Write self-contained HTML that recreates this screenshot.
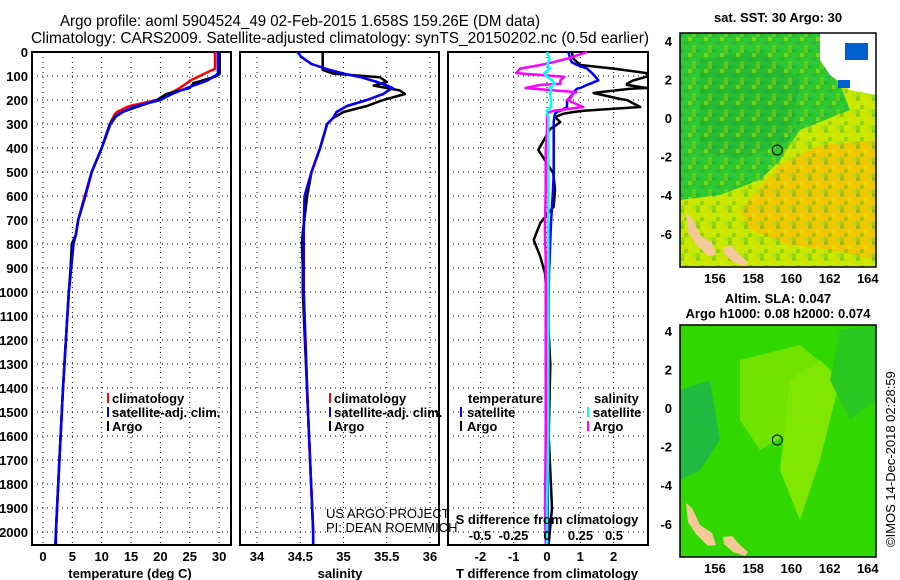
<!DOCTYPE html>
<html><head><meta charset="utf-8"><style>
html,body{margin:0;padding:0;background:#fff;}
svg{display:block;font-family:"Liberation Sans",sans-serif;}
.t{font-size:13px;font-weight:bold;}
</style></head><body>
<svg id="s" width="900" height="580" viewBox="0 0 900 580">
<defs>
<pattern id="noise" x="680" y="33" width="16" height="16" patternUnits="userSpaceOnUse">
<rect x="0" y="0" width="4" height="4" fill="#10a040" opacity="0.35"/>
<rect x="8" y="4" width="4" height="4" fill="#e0f000" opacity="0.4"/>
<rect x="4" y="8" width="4" height="4" fill="#10a040" opacity="0.3"/>
<rect x="12" y="12" width="4" height="4" fill="#90e000" opacity="0.4"/>
<rect x="12" y="0" width="4" height="4" fill="#f0d000" opacity="0.25"/>
<rect x="0" y="12" width="4" height="4" fill="#20c060" opacity="0.3"/>
</pattern>
</defs>
<text x="300" y="26" text-anchor="middle" font-size="16" textLength="480" lengthAdjust="spacingAndGlyphs">Argo profile: aoml 5904524_49 02-Feb-2015 1.658S 159.26E (DM data)</text>
<text x="340" y="43" text-anchor="middle" font-size="16" textLength="618" lengthAdjust="spacingAndGlyphs">Climatology: CARS2009. Satellite-adjusted climatology: synTS_20150202.nc (0.5d earlier)</text>
<g id="panels"></g>
</svg>
<script>
// ---- data ----
var tDepth = [0,70,90,100,120,130,150,175,200,225,230,250,260,270,300,400,500,600,700,760,800,900,1000,1200,1400,1700,2000,2050];
var tClim  = [29.3,29.3,27.5,26.7,25,24.5,23.3,21.5,19.4,14.8,14.2,12.6,12.2,12,11.4,10,8.3,7.1,6,5.6,5.2,4.8,4.4,3.9,3.4,2.8,2.2,2.1];
var tSat   = [29.8,29.8,29.8,29.3,27.9,26.8,24.5,22,20,16,15.3,13.5,12.8,12.4,11.5,10,8.3,7.2,6,5.6,5.2,4.8,4.4,3.9,3.4,2.8,2.2,2.1];
var tArgo  = [30.1,30.1,30.1,29.6,27,25.6,25,21,19.4,16.5,15.8,13.6,13,12.3,11.4,10,8.3,7.2,6,5.6,4.9,4.7,4.4,3.9,3.4,2.8,2.2,2.2];
var sDepth = [0,20,50,75,90,105,125,140,150,160,175,200,225,250,275,300,400,500,600,750,800,900,1000,1500,2000,2050];
var sClim  = [34.47,34.51,34.63,34.84,35.0,35.2,35.39,35.5,35.57,35.52,35.46,35.27,35.04,34.92,34.88,34.81,34.73,34.63,34.55,34.54,34.54,34.54,34.54,34.59,34.65,34.65];
var sArgo  = [34.76,34.76,34.76,34.76,34.88,35.42,35.5,35.35,35.5,35.65,35.71,35.46,35.27,35.0,34.88,34.81,34.73,34.63,34.58,34.53,34.52,34.53,34.53,34.59,34.65,34.65];
var dDepth = [0,28,42,54,69,88,103,118,132,137,150,153,167,171,196,200,229,245,250,257,271,292,312,320,408,505,575,644,713,783,853,922,1030,1300,1600,1900,2050];
var dTArgo = [0.74,0.8,0.9,1.0,2.0,3.0,3.0,2.6,2.4,2.4,3.0,2.5,1.6,1.4,2.2,2.4,2.8,1.1,0.8,0.5,0.24,0.4,0.2,0.1,-0.26,0.19,0.24,0.2,-0.2,-0.4,-0.2,-0.06,0,0.1,0.05,0.15,0.05];
var dTSat  = [0.64,0.7,0.74,0.9,1.2,1.35,1.45,1.54,1.3,1.2,1.0,0.9,0.8,0.8,0.65,0.6,0.6,0.4,0.3,0.24,0.22,0.2,0.2,0.2,0.2,0.2,0.18,0.15,0.12,0.1,0.08,0.06,0.05,0.04,0.03,0.02,0.02];
var dSArgo = [0.3,0.15,0.05,-0.05,-0.2,-0.23,0.13,0.1,0.1,-0.05,-0.16,-0.1,0.22,0.2,0.17,0.15,0.27,0.05,0.02,0.0,0.0,0.0,0.0,0.0,-0.01,-0.01,-0.01,-0.012,-0.015,-0.015,-0.01,-0.01,-0.01,-0.01,-0.01,-0.015,-0.01];
var dSSat  = [0.0,0.02,0.01,0.0,0.02,-0.02,0.0,0.04,0.06,0.04,0.02,0.03,0.03,0.02,0.03,0.03,0.03,0.0,0.0,0.0,0.01,0.01,0.01,0.01,0.01,0.01,0.01,0.01,0.01,0.01,0.01,0.01,0.01,0.01,0.01,0.0,0.0];
var depthTicks = [0,100,200,300,400,500,600,700,800,900,1000,1100,1200,1300,1400,1500,1600,1700,1800,1900,2000];
var tempTicks = [0,5,10,15,20,25,30];
var salTicks = [34,34.5,35,35.5,36];
var tdTicks = [-2,-1,0,1,2];
var sdTicks = [-0.5,-0.25,0,0.25,0.5];
var sdLabels = ["-0.5","-0.25","0","0.25","0.5"];
var lonTicks = [156,158,160,162,164];
var latTicks = [4,2,0,-2,-4,-6];

var NS='http://www.w3.org/2000/svg';
function mk(tag,attrs,parent,txt){var e=document.createElementNS(NS,tag);for(var k in attrs)e.setAttribute(k,attrs[k]);if(txt!==undefined)e.textContent=txt;parent.appendChild(e);return e;}
function yD(d){return 52+d*0.24;}
var P=document.getElementById('panels');
var TOP=52,BOT=545;
function panel(name,x0,x1,xf,ticks,labels){
  var g=mk('g',{},P);
  
  
  ticks.forEach(function(v){var x=xf(v);
    var l=mk('line',{x1:x,x2:x,y1:TOP,y2:BOT,stroke:'#000','stroke-width':1,'stroke-dasharray':'1,4'},g);
    
    
  });
  depthTicks.forEach(function(d){var y=yD(d);
    var l=mk('line',{x1:x0,x2:x1,y1:y,y2:y,stroke:'#000','stroke-width':1,'stroke-dasharray':'1,4'},g);
    
    
  });
  var r=mk('rect',{x:x0,y:TOP,width:x1-x0,height:BOT-TOP,fill:'none',stroke:'#000','stroke-width':2},g);
  
  
  ticks.forEach(function(v,i){
    var t=mk('text',{x:xf(v),y:561,'text-anchor':'middle','class':'t'},g,labels[i]);
    
    
  });
  return g;
}
function line(g,xs,ds,xf,col,w,name,clipx){
  var pts=xs.map(function(v,i){var x=xf(v);if(clipx!==undefined)x=Math.min(x,clipx);return x.toFixed(1)+','+yD(ds[i]).toFixed(1);}).join(' ');
  var p=mk('polyline',{points:pts,fill:'none',stroke:col,'stroke-width':w,'stroke-linejoin':'round'},g);
  
  
}
depthTicks.forEach(function(d){
  var t=mk('text',{x:28,y:yD(d)+5,'text-anchor':'end','class':'t'},P,String(d));
  
  
});
function xT(v){return 43+v*5.87;}
var g1=panel('temperature-panel',32,231,xT,tempTicks,tempTicks.map(String));
line(g1,tClim,tDepth,xT,'#f00',2.5,'climatology-temp-line');
line(g1,tArgo,tDepth,xT,'#000',2.5,'argo-temp-line');
line(g1,tSat,tDepth,xT,'#00f',2.5,'satellite-temp-line');
function xS(v){return 257+(v-34)*86.5;}
var g2=panel('salinity-panel',240,439,xS,salTicks,salTicks.map(String));
line(g2,sArgo,sDepth,xS,'#000',2.5,'argo-salinity-line');
line(g2,sClim,sDepth,xS,'#f00',2.5,'climatology-salinity-line');
line(g2,sClim,sDepth,xS,'#00f',2.5,'satellite-salinity-line');
function xTD(v){return 547+v*33.3;}
function xSD(v){return 547+v*134;}
var g3=panel('difference-panel',448,648,xTD,tdTicks,tdTicks.map(String));
line(g3,dTArgo,dDepth,xTD,'#000',2.5,'argo-temp-diff-line',647);
line(g3,dTSat,dDepth,xTD,'#00f',2.5,'satellite-temp-diff-line',647);
line(g3,dSArgo,dDepth,xSD,'#f0f',2.5,'argo-salinity-diff-line',647);
line(g3,dSSat,dDepth,xSD,'#0ff',2.5,'satellite-salinity-diff-line',647);
sdTicks.forEach(function(v,i){
  var t=mk('text',{x:xSD(v),y:540,'text-anchor':'middle','class':'t'},g3,sdLabels[i]);
  
  
});

var S=document.getElementById('s');
function T(x,y,txt,name,extra){var e=document.createElementNS(NS,'text');e.setAttribute('x',x);e.setAttribute('y',y);e.setAttribute('class','t');
  if(extra)for(var k in extra)e.setAttribute(k,extra[k]);e.textContent=txt;S.appendChild(e);
  
  return e;}
function M(x,y,c){var r=document.createElementNS(NS,'rect');r.setAttribute('x',x);r.setAttribute('y',y);r.setAttribute('width',2);r.setAttribute('height',10);r.setAttribute('fill',c);S.appendChild(r);
  
  }
T(130,578,'temperature (deg C)','x-axis-title-temperature',{'text-anchor':'middle'});
T(340,578,'salinity','x-axis-title-salinity',{'text-anchor':'middle'});
T(547,578,'T difference from climatology','x-axis-title-t-diff',{'text-anchor':'middle'});
T(547,524,'S difference from climatology','s-diff-axis-title',{'text-anchor':'middle'});
[[107,'#f00','climatology',403],[107,'#00f','satellite-adj. clim.',417],[107,'#000','Argo',431]].forEach(function(a){M(a[0],a[3]-10,a[1]);T(a[0]+5,a[3],a[2],'legend-entry');});
[[329,'#f00','climatology',403],[329,'#00f','satellite-adj. clim.',417],[329,'#000','Argo',431]].forEach(function(a){M(a[0],a[3]-10,a[1]);T(a[0]+5,a[3],a[2],'legend-entry');});
T(468,403,'temperature','legend-title-temperature');
M(460,407,'#00f');T(467,417,'satellite','legend-entry');
M(460,421,'#000');T(467,431,'Argo','legend-entry');
T(594,403,'salinity','legend-title-salinity');
M(587,407,'#0ff');T(593,417,'satellite','legend-entry');
M(587,421,'#f0f');T(593,431,'Argo','legend-entry');
T(326,518,'US ARGO PROJECT','credit-project',{'style':'font-weight:normal'});
T(326,532,'PI: DEAN ROEMMICH','credit-pi',{'style':'font-weight:normal'});
function lonX(v){return 715+(v-156)*19.1;}
function map(name,y0,y1,latY,isSST){
  var g=document.createElementNS(NS,'g');S.appendChild(g);
  
  
  var h=y1-y0;
  function Pg(pts,c){var p=document.createElementNS(NS,'polygon');p.setAttribute('points',pts);p.setAttribute('fill',c);g.appendChild(p);
    
    }
  if(isSST){
    Pg('680,'+y0+' 876,'+y0+' 876,'+y1+' 680,'+y1,'#c8e800');
    Pg('680,'+y0+' 820,'+y0+' 850,110 800,130 780,160 760,180 720,195 680,200','#30c830');
    Pg('700,60 760,50 800,80 790,140 740,160 700,150','#28bb30');
    Pg('780,165 820,145 876,140 876,260 830,250 790,245 750,230 740,210','#f0c800');
    var n=document.createElementNS(NS,'rect');n.setAttribute('x',680);n.setAttribute('y',y0);n.setAttribute('width',196);n.setAttribute('height',h);n.setAttribute('fill','url(#noise)');g.appendChild(n);
    
    
    Pg('820,'+y0+' 876,'+y0+' 876,95 850,90 830,75 820,60','#ffffff');
    Pg('845,43 868,43 868,60 845,60','#0060d0');
    Pg('838,80 850,80 850,88 838,88','#0060d0');
  } else {
    Pg('680,'+y0+' 876,'+y0+' 876,'+y1+' 680,'+y1,'#30d800');
    Pg('740,360 800,345 830,370 810,420 760,450 740,420','#70e400');
    Pg('790,380 820,360 840,380 820,460 800,520 780,470','#80e800');
    Pg('680,390 710,380 720,440 700,470 680,480','#20bb40');
    Pg('840,330 876,325 876,400 850,420 830,380','#28c820');
  }
  var sh=isSST?0:(y1-267);
  Pg('686,'+(213+sh)+' 692,'+(218+sh)+' 700,'+(235+sh)+' 712,'+(243+sh)+' 716,'+(255+sh)+' 708,'+(256+sh)+' 696,'+(244+sh)+' 688,'+(232+sh),'#f5c898');
  Pg('723,'+(247+sh)+' 732,'+(246+sh)+' 740,'+(255+sh)+' 748,'+(262+sh)+' 745,'+(266+sh)+' 733,'+(262+sh)+' 724,'+(254+sh),'#f5c898');
  var r=document.createElementNS(NS,'rect');r.setAttribute('x',680);r.setAttribute('y',y0);r.setAttribute('width',196);r.setAttribute('height',h);r.setAttribute('fill','none');r.setAttribute('stroke','#000');r.setAttribute('stroke-width',1.5);g.appendChild(r);
  
  
  var c=document.createElementNS(NS,'circle');c.setAttribute('cx',lonX(159.26));c.setAttribute('cy',latY(-1.658));c.setAttribute('r',5);c.setAttribute('fill','none');c.setAttribute('stroke','#000');c.setAttribute('stroke-width',1);g.appendChild(c);
  
  
  latTicks.forEach(function(v){T(672,latY(v)+5,String(v),'lat-tick-label',{'text-anchor':'end'});});
  lonTicks.forEach(function(v){T(lonX(v),y1+16,String(v),'lon-tick-label',{'text-anchor':'middle'});});
}
map('sst-map',33,267,function(v){return 118-v*19.3;},true);
map('sla-map',325,557,function(v){return 408-v*19.3;},false);
T(778,22,'sat. SST: 30 Argo: 30','sst-map-title',{'text-anchor':'middle'});
T(778,303,'Altim. SLA: 0.047','sla-map-title',{'text-anchor':'middle'});
T(778,318,'Argo h1000: 0.08 h2000: 0.074','sla-map-subtitle',{'text-anchor':'middle'});
T(895,547,'©IMOS 14-Dec-2018 02:28:59','imos-timestamp',{'transform':'rotate(-90 895 547)','style':'font-weight:normal'});
</script>
</body></html>
